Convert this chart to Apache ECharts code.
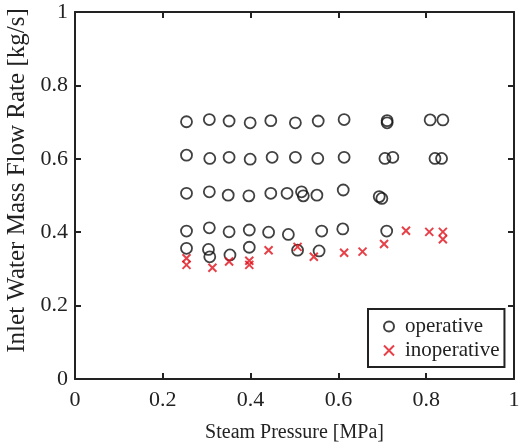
<!DOCTYPE html>
<html>
<head>
<meta charset="utf-8">
<script src="https://cdn.jsdelivr.net/npm/echarts@6/dist/echarts.min.js"></script>
<style>
  html, body { margin: 0; padding: 0; background: #fff; }
  #chart { width: 520px; height: 444px; }
</style>
</head>
<body>
<div id="chart"></div>
<script>
var myChart = echarts.init(document.getElementById('chart'));

// operative points, row by row [pressure, flow]
var opRow07 = [[0.254,0.701],[0.306,0.707],[0.351,0.703],[0.399,0.698],[0.446,0.704],[0.502,0.698],[0.554,0.703],[0.613,0.707],[0.711,0.704],[0.711,0.698],[0.809,0.706],[0.838,0.706]];
var opRow06 = [[0.254,0.610],[0.307,0.601],[0.351,0.604],[0.399,0.599],[0.449,0.604],[0.502,0.604],[0.553,0.601],[0.613,0.604],[0.706,0.601],[0.724,0.604],[0.820,0.601],[0.835,0.601]];
var opRow05 = [[0.254,0.506],[0.306,0.510],[0.349,0.501],[0.396,0.499],[0.446,0.506],[0.483,0.506],[0.516,0.510],[0.520,0.499],[0.551,0.501],[0.611,0.515],[0.693,0.497],[0.699,0.492]];
var opRow04 = [[0.254,0.403],[0.306,0.412],[0.351,0.401],[0.397,0.406],[0.441,0.400],[0.486,0.394],[0.562,0.403],[0.610,0.409],[0.710,0.403]];
var opRow035 = [[0.254,0.356],[0.304,0.353],[0.307,0.333],[0.353,0.338],[0.397,0.359],[0.507,0.351],[0.556,0.349]];
// inoperative points
var inop = [[0.254,0.329],[0.254,0.311],[0.313,0.303],[0.351,0.320],[0.397,0.322],[0.397,0.311],[0.441,0.351],[0.507,0.360],[0.544,0.333],[0.613,0.344],[0.655,0.347],[0.704,0.368],[0.754,0.404],[0.807,0.401],[0.838,0.401],[0.838,0.381]];

var operative = opRow07.concat(opRow06, opRow05, opRow04, opRow035);

var font = 'Liberation Serif';
var ink = '#222';
var crossPath = 'path://M0,0L10,10M10,0L0,10';

function axisBase(pos, show, margin) {
  return {
    type: 'value',
    position: pos,
    min: 0,
    max: 1,
    interval: 0.2,
    axisLine: { show: true, onZero: false, lineStyle: { color: ink, width: 2 } },
    axisTick: { show: true, inside: true, length: 6, lineStyle: { color: ink, width: 2 } },
    splitLine: { show: false },
    axisLabel: {
      show: show,
      fontFamily: font,
      fontSize: 22,
      color: ink,
      margin: margin
    }
  };
}

var xMain = axisBase('bottom', true, 10);
xMain.name = 'Steam Pressure [MPa]';
xMain.nameLocation = 'middle';
xMain.nameGap = 44;
xMain.nameTextStyle = { fontFamily: font, fontSize: 20, color: ink };

var yMain = axisBase('left', true, 7);
yMain.name = 'Inlet Water Mass Flow Rate [kg/s]';
yMain.nameLocation = 'middle';
yMain.nameGap = 38;
yMain.nameTextStyle = { fontFamily: font, fontSize: 25, color: ink, padding: [0, 0, 0, 30] };

var option = {
  backgroundColor: '#fff',
  animation: false,
  grid: { left: 75, right: 6, top: 12, bottom: 65, outerBoundsMode: 'none' },
  xAxis: [xMain, axisBase('top', false, 8)],
  yAxis: [yMain, axisBase('right', false, 8)],
  legend: {
    left: 368,
    top: 309,
    orient: 'vertical',
    itemGap: 3,
    itemWidth: 10,
    itemHeight: 10,
    padding: [7, 5, 6, 15],
    borderColor: ink,
    borderWidth: 2,
    backgroundColor: '#fff',
    textStyle: { fontFamily: font, fontSize: 21, color: ink, padding: [0, 0, 0, 6] },
    data: [
      { name: 'operative', icon: 'circle' },
      { name: 'inoperative', icon: crossPath }
    ]
  },
  series: [
    {
      name: 'operative',
      type: 'scatter',
      symbol: 'circle',
      symbolSize: 11,
      itemStyle: { color: 'rgba(0,0,0,0)', borderColor: '#111', borderWidth: 1.8 },
      data: operative
    },
    {
      name: 'inoperative',
      type: 'scatter',
      symbol: crossPath,
      symbolSize: 8,
      itemStyle: { color: 'rgba(0,0,0,0)', borderColor: '#e0101a', borderWidth: 2 },
      data: inop
    }
  ]
};

myChart.setOption(option);
</script>
</body>
</html>
